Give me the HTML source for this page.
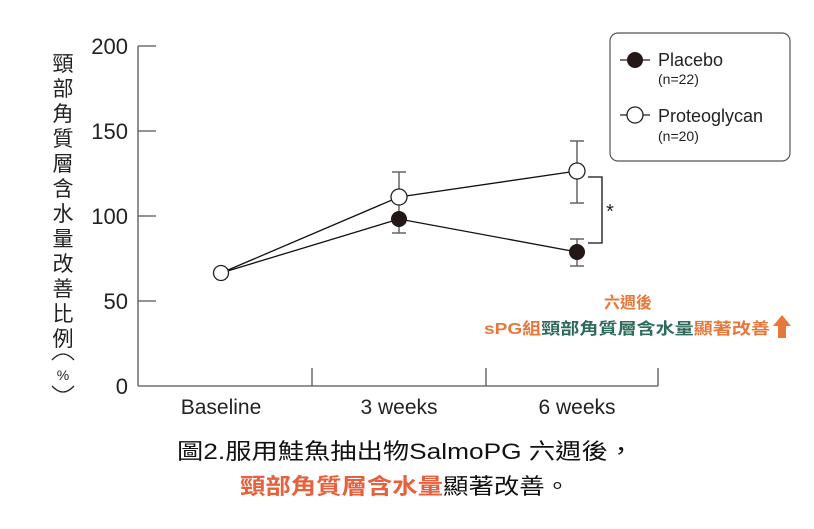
<!DOCTYPE html>
<html><head><meta charset="utf-8"><style>
html,body{margin:0;padding:0;background:#fff;}
svg{display:block;}
text{font-family:"Liberation Sans","Noto Sans CJK TC",sans-serif;}
</style></head><body>
<svg width="814" height="529" viewBox="0 0 814 529" xmlns="http://www.w3.org/2000/svg">
<g stroke="#555" stroke-width="1.3" fill="none">
<line x1="138" y1="46" x2="138" y2="386"/>
<line x1="138" y1="386" x2="658" y2="386"/>
<line x1="138" y1="46" x2="156" y2="46"/>
<line x1="138" y1="131" x2="156" y2="131"/>
<line x1="138" y1="216" x2="156" y2="216"/>
<line x1="138" y1="301" x2="156" y2="301"/>
<line x1="312" y1="386" x2="312" y2="368"/>
<line x1="486" y1="386" x2="486" y2="368"/>
<line x1="658" y1="386" x2="658" y2="368"/>
</g>
<g font-size="22" fill="#222" text-anchor="end">
<text x="128" y="54">200</text>
<text x="128" y="139">150</text>
<text x="128" y="224">100</text>
<text x="128" y="309">50</text>
<text x="128" y="394">0</text>
</g>
<g font-size="21" fill="#222" text-anchor="middle">
<text x="221" y="414">Baseline</text>
<text x="399" y="414">3 weeks</text>
<text x="577" y="414">6 weeks</text>
</g>
<g font-size="21" fill="#222" text-anchor="middle">
<text x="63" y="71">頸</text><text x="63" y="96">部</text><text x="63" y="121">角</text>
<text x="63" y="146">質</text><text x="63" y="171">層</text><text x="63" y="196">含</text>
<text x="63" y="221">水</text><text x="63" y="246">量</text><text x="63" y="271">改</text>
<text x="63" y="296">善</text><text x="63" y="321">比</text><text x="63" y="346">例</text>
<text x="63" y="380" font-size="14">%</text>
</g>
<path d="M52 360 Q63 348 74 360" stroke="#222" stroke-width="1.3" fill="none"/>
<path d="M52 386 Q63 398 74 386" stroke="#222" stroke-width="1.3" fill="none"/>
<g stroke="#666" stroke-width="1.5">
<line x1="399" y1="172" x2="399" y2="233"/><line x1="392" y1="172" x2="406" y2="172"/><line x1="392" y1="233" x2="406" y2="233"/>
<line x1="577" y1="141" x2="577" y2="203"/><line x1="570" y1="141" x2="584" y2="141"/><line x1="570" y1="203" x2="584" y2="203"/>
<line x1="577" y1="239" x2="577" y2="266"/><line x1="570" y1="239" x2="584" y2="239"/><line x1="570" y1="266" x2="584" y2="266"/>
</g>
<g stroke="#111" stroke-width="1.3" fill="none">
<polyline points="221,273 399,197 577,171"/>
<polyline points="221,273 399,219 577,252"/>
<polyline points="588,177 602,177 602,243 588,243"/>
</g>
<text x="610" y="218" font-size="20" fill="#222" text-anchor="middle">*</text>
<circle cx="399" cy="219" r="8" fill="#231815"/>
<circle cx="577" cy="252" r="8" fill="#231815"/>
<circle cx="399" cy="197" r="8" fill="#fff" stroke="#222" stroke-width="1.3"/>
<circle cx="577" cy="171" r="8" fill="#fff" stroke="#222" stroke-width="1.3"/>
<circle cx="221" cy="273" r="7.5" fill="#fff" stroke="#222" stroke-width="1.3"/>
<rect x="610" y="33" width="180" height="128" rx="8" fill="#fff" stroke="#555" stroke-width="1.2"/>
<line x1="620" y1="60" x2="650" y2="60" stroke="#222" stroke-width="1.2"/>
<circle cx="635" cy="60" r="8" fill="#231815"/>
<text x="658" y="66" font-size="18" fill="#222">Placebo</text>
<text x="658" y="84" font-size="14" fill="#222">(n=22)</text>
<line x1="620" y1="115" x2="650" y2="115" stroke="#222" stroke-width="1.2"/>
<circle cx="635" cy="115" r="8" fill="#fff" stroke="#222" stroke-width="1.3"/>
<text x="658" y="122" font-size="18" fill="#222">Proteoglycan</text>
<text x="658" y="141" font-size="14" fill="#222">(n=20)</text>
<text x="628" y="308" font-size="16" font-weight="bold" fill="#e8783a" text-anchor="middle">六週後</text>
<text x="484" y="334" font-size="16" font-weight="bold" textLength="286" lengthAdjust="spacingAndGlyphs"><tspan fill="#e8783a">sPG組</tspan><tspan fill="#2e6b5a">頸部角質層含水量</tspan><tspan fill="#e8783a">顯著改善</tspan></text>
<path d="M782 315 L791 326 L786 326 L786 338 L778 338 L778 326 L773 326 Z" fill="#e8783a"/>
<text x="177" y="459" font-size="22" fill="#111" textLength="457" lengthAdjust="spacingAndGlyphs">圖2.服用鮭魚抽出物SalmoPG 六週後，</text>
<text x="240" y="494" font-size="22" font-weight="bold" textLength="330" lengthAdjust="spacingAndGlyphs"><tspan fill="#e8603c">頸部角質層含水量</tspan><tspan fill="#111" font-weight="normal">顯著改善。</tspan></text>
</svg>
</body></html>
